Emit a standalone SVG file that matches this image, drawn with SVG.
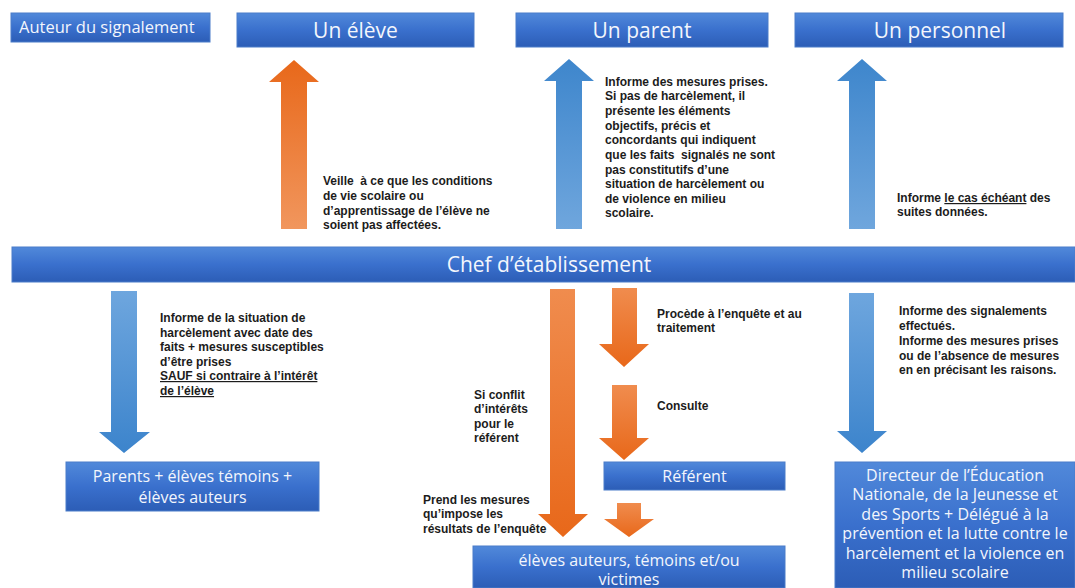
<svg xmlns="http://www.w3.org/2000/svg" width="1075" height="588" viewBox="0 0 1075 588">
<defs>
<linearGradient id="gBox" x1="0" y1="0" x2="0" y2="1">
<stop offset="0" stop-color="#5189da"/><stop offset="0.5" stop-color="#3a70cd"/><stop offset="1" stop-color="#2c5db6"/>
</linearGradient>
<linearGradient id="gOrUp" x1="0" y1="0" x2="0" y2="1">
<stop offset="0" stop-color="#e8681a"/><stop offset="1" stop-color="#f1965d"/>
</linearGradient>
<linearGradient id="gOrDown" x1="0" y1="0" x2="0" y2="1">
<stop offset="0" stop-color="#f08c4e"/><stop offset="1" stop-color="#e8681a"/>
</linearGradient>
<linearGradient id="gBlUp" x1="0" y1="0" x2="0" y2="1">
<stop offset="0" stop-color="#3e86cc"/><stop offset="1" stop-color="#6fa6dd"/>
</linearGradient>
<linearGradient id="gBlDown" x1="0" y1="0" x2="0" y2="1">
<stop offset="0" stop-color="#6ea6de"/><stop offset="1" stop-color="#3c84cc"/>
</linearGradient>
</defs>
<style>
.box{fill:url(#gBox);stroke:#4a7cc9;stroke-width:1}
.bt{font-family:"Open Sans","Liberation Sans",sans-serif;fill:#f3f6fc;text-anchor:middle}
.tt{font-size:21px}
.lb{font-family:"Liberation Sans",Arial,sans-serif;font-weight:bold;font-size:12px;fill:#1c1c1c}
.u{text-decoration:underline}
</style>
<rect width="1075" height="588" fill="#ffffff"/>

<g id="connectors">
<polygon id="a-eleve" fill="url(#gOrUp)" points="294,60 319,82 307,82 307,229 281,229 281,82 269,82"/>
<polygon id="a-parent" fill="url(#gBlUp)" points="569,59 594,81 582,81 582,229 556,229 556,81 544,81"/>
<polygon id="a-personnel" fill="url(#gBlUp)" points="862,59 887,81 875,81 875,229 849,229 849,81 837,81"/>
<polygon id="a-parents" fill="url(#gBlDown)" points="111,291 137,291 137,432 150,432 124,453 99,432 111,432"/>
<polygon id="a-mesures" fill="url(#gOrDown)" points="550,289 575,289 575,514 588,514 563,537 538,514 550,514"/>
<polygon id="a-enquete" fill="url(#gOrDown)" points="612,288 637,288 637,344 649,344 624,367 599,344 612,344"/>
<polygon id="a-consulte" fill="url(#gOrDown)" points="612,385 637,385 637,438 649,438 624,460 599,438 612,438"/>
<polygon id="a-referent" fill="url(#gOrDown)" points="617,503 641,503 641,519 654,519 629,537 604,519 617,519"/>
<polygon id="a-dasen" fill="url(#gBlDown)" points="849,293 874,293 874,431 887,431 862,453 837,431 849,431"/>
</g>

<g id="labels">
<text class="lb" xml:space="preserve"><tspan x="323" y="185">Veille  à ce que les conditions</tspan><tspan x="323" y="200">de vie scolaire ou</tspan><tspan x="323" y="215">d’apprentissage de l’élève ne</tspan><tspan x="323" y="229">soient pas affectées.</tspan></text>
<text class="lb" xml:space="preserve"><tspan x="605" y="86">Informe des mesures prises.</tspan><tspan x="605" y="100">Si pas de harcèlement, il</tspan><tspan x="605" y="115">présente les éléments</tspan><tspan x="605" y="130">objectifs, précis et</tspan><tspan x="605" y="144">concordants qui indiquent</tspan><tspan x="605" y="159">que les faits  signalés ne sont</tspan><tspan x="605" y="174">pas constitutifs d’une</tspan><tspan x="605" y="188">situation de harcèlement ou</tspan><tspan x="605" y="203">de violence en milieu</tspan><tspan x="605" y="217">scolaire.</tspan></text>
<text class="lb"><tspan x="897" y="202">Informe <tspan class="u">le cas échéant</tspan> des</tspan><tspan x="897" y="216">suites données.</tspan></text>
<text class="lb"><tspan x="160" y="322">Informe de la situation de</tspan><tspan x="160" y="337">harcèlement avec date des</tspan><tspan x="160" y="351">faits + mesures susceptibles</tspan><tspan x="160" y="366">d’être prises</tspan><tspan x="160" y="380" class="u">SAUF si contraire à l’intérêt</tspan><tspan x="160" y="395" class="u">de l’élève</tspan></text>
<text class="lb"><tspan x="474" y="399">Si conflit</tspan><tspan x="474" y="413">d’intérêts</tspan><tspan x="474" y="428">pour le</tspan><tspan x="474" y="442">référent</tspan></text>
<text class="lb"><tspan x="423" y="504">Prend les mesures</tspan><tspan x="423" y="518">qu’impose les</tspan><tspan x="423" y="533">résultats de l’enquête</tspan></text>
<text class="lb"><tspan x="657" y="318">Procède à l’enquête et au</tspan><tspan x="657" y="332">traitement</tspan></text>
<text class="lb" x="657" y="410">Consulte</text>
<text class="lb"><tspan x="899" y="315">Informe des signalements</tspan><tspan x="899" y="330">effectués.</tspan><tspan x="899" y="345">Informe des mesures prises</tspan><tspan x="899" y="360">ou de l’absence de mesures</tspan><tspan x="899" y="374">en en précisant les raisons.</tspan></text>
</g>

<g id="n-auteur"><rect class="box" x="11" y="13" width="199" height="29"/><text class="bt" x="19" y="33" style="text-anchor:start;font-size:16.5px">Auteur du signalement</text></g>
<g id="n-eleve"><rect class="box" x="237" y="13" width="237" height="34"/><text class="bt tt" x="355.5" y="37.5">Un élève</text></g>
<g id="n-parent"><rect class="box" x="516" y="13" width="252" height="34"/><text class="bt tt" x="642" y="37.5">Un parent</text></g>
<g id="n-personnel"><rect class="box" x="795" y="13" width="268" height="34"/><text class="bt tt" x="940" y="37.5">Un personnel</text></g>
<g id="n-chef"><rect class="box" x="12" y="247" width="1063" height="35"/><text class="bt tt" x="549" y="272">Chef d’établissement</text></g>
<g id="n-parents"><rect class="box" x="66" y="462" width="253" height="49"/><text class="bt" font-size="16"><tspan x="192.5" y="482">Parents + élèves témoins +</tspan><tspan x="192.5" y="503">élèves auteurs</tspan></text></g>
<g id="n-referent"><rect class="box" x="604" y="462" width="181" height="28"/><text class="bt" x="694.5" y="482" font-size="16">Référent</text></g>
<g id="n-eleves"><rect class="box" x="473" y="546" width="312" height="42"/><text class="bt" font-size="16"><tspan x="629" y="566">élèves auteurs, témoins et/ou</tspan><tspan x="629" y="585">victimes</tspan></text></g>
<g id="n-dasen"><rect class="box" x="835" y="462" width="240" height="126"/><text class="bt" font-size="16"><tspan x="955" y="481">Directeur de l’Éducation</tspan><tspan x="955" y="500">Nationale, de la Jeunesse et</tspan><tspan x="955" y="520">des Sports + Délégué à la</tspan><tspan x="955" y="539">prévention et la lutte contre le</tspan><tspan x="955" y="559">harcèlement et la violence en</tspan><tspan x="955" y="578">milieu scolaire</tspan></text></g>
</svg>
